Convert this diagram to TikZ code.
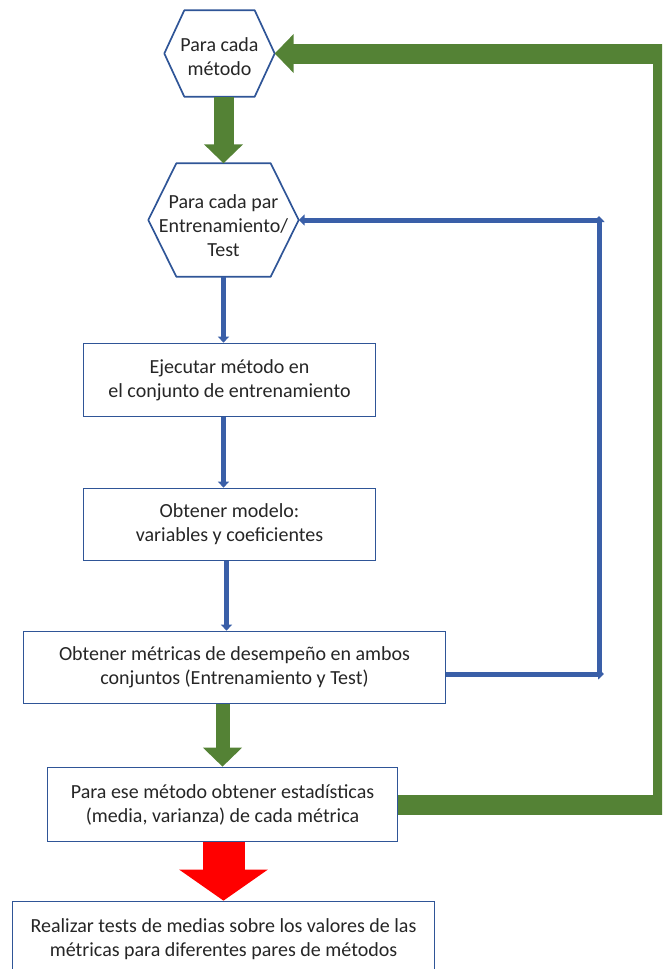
\documentclass[tikz,border=0pt]{standalone}
\usepackage{fontspec}
\setmainfont{Carlito}
\usetikzlibrary{arrows.meta,calc}
\definecolor{boxblue}{RGB}{47,85,151}
\definecolor{linkblue}{RGB}{58,95,168}
\definecolor{flowgreen}{RGB}{84,130,53}
\definecolor{flowred}{RGB}{255,0,0}
\definecolor{txt}{RGB}{38,38,38}
\begin{document}
\begin{tikzpicture}[x=1pt,y=1pt,
  every node/.style={font=\fontsize{20}{24}\selectfont, text=txt},
  proc/.style={draw=boxblue, line width=1.7pt, fill=white, align=center, inner sep=0pt},
  hexnode/.style={align=center, inner sep=0pt},
  hexline/.style={draw=boxblue, line width=1.7pt, line join=round},
  bluelink/.style={draw=linkblue, line width=5pt, -{Triangle[width=11pt,length=6pt]}},
  greenlink/.style={draw=flowgreen, line width=20pt, -{Triangle[width=38pt,length=19pt]}},
  redlink/.style={draw=flowred, line width=42pt, -{Triangle[width=87pt,length=31pt]}}
]
\useasboundingbox (0,0) rectangle (662,-969);
\clip (0,0) rectangle (662,-969);

% hexagons
\node[hexnode, minimum width=110pt, minimum height=86pt,
  label={[align=center, yshift=-3pt]center:Para cada\\método}] (h1) at (219.5,-53.5) {};
\draw[hexline] (h1.west) -- ($(h1.north west)+(20,0)$) -- ($(h1.north east)+(-20,0)$) -- (h1.east)
  -- ($(h1.south east)+(-20,0)$) -- ($(h1.south west)+(20,0)$) -- cycle;
\node[hexnode, minimum width=150pt, minimum height=113pt,
  label={[align=center, yshift=-6pt]center:Para cada par\\Entrenamiento/\\Test}] (h2) at (223.5,-220) {};
\draw[hexline] (h2.west) -- ($(h2.north west)+(28,0)$) -- ($(h2.north east)+(-28,0)$) -- (h2.east)
  -- ($(h2.south east)+(-28,0)$) -- ($(h2.south west)+(28,0)$) -- cycle;

% boxes
\node[proc, minimum width=292pt, minimum height=73pt] (b1) at (229.5,-380) {Ejecutar método en\\el conjunto de entrenamiento};
\node[proc, minimum width=292pt, minimum height=72pt] (b2) at (229.5,-524.5) {Obtener modelo:\\variables y coeficientes};
\node[proc, minimum width=422pt, minimum height=72pt] (b3) at (234.5,-667.5) {Obtener métricas de desempeño en ambos\\conjuntos (Entrenamiento y Test)};
\node[proc, minimum width=350pt, minimum height=74pt] (b4) at (222.5,-804.5) {Para ese método obtener estadísticas\\(media, varianza) de cada métrica};
\node[proc, minimum width=422pt, minimum height=75pt] (b5) at (223.5,-939) {Realizar tests de medias sobre los valores de las\\métricas para diferentes pares de métodos};

% blue links
\draw[bluelink] (h2.south) -- (h2.south |- b1.north);
\draw[bluelink] (b1.south -| h2.south) -- (h2.south |- b2.north);
\draw[bluelink] ([xshift=-3pt]b2.south) -- ([xshift=-3pt]b2.south |- b3.north);

\coordinate (lr) at (604,-674);
\coordinate (lc) at (599,-676);
\coordinate (ux) at (599,0);
\draw[bluelink] (b3.east |- lr) -- (lr);
\draw[bluelink] (lc) -- ([yshift=4pt]h2.east -| ux);
\draw[bluelink] (h2.east -| ux) -- (h2.east);

% green links
\coordinate (gx) at (663,0);
\draw[greenlink] (h1.south -| h2.north) -- (h2.north);
\draw[greenlink, line width=14pt] (b3.south -| b4.north) -- (b4.north);
\draw[greenlink, line join=miter] (b4.east) -- (b4.east -| gx) -- (h1.east -| gx) -- (h1.east);

% red link
\draw[redlink] (b4.south -| b5.north) -- (b5.north);
\end{tikzpicture}
\end{document}
